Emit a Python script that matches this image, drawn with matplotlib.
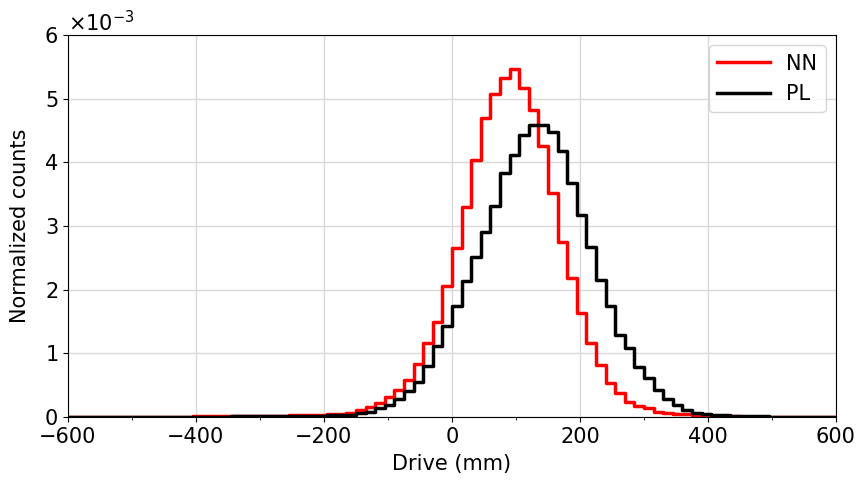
import matplotlib
matplotlib.use('Agg')
import matplotlib.pyplot as plt
from matplotlib.ticker import MultipleLocator
import numpy as np

# histogram bin edges (mm), 15 mm bins
bin_edges = np.arange(-600, 615, 15)

# normalized counts, in units of 1e-3, one value per bin starting at -600 mm
nn_counts = [
    0.002, 0.002, 0.002, 0.003, 0.003, 0.003, 0.004, 0.004, 0.005, 0.005,
    0.006, 0.007, 0.008, 0.009, 0.010, 0.011, 0.012, 0.013, 0.014, 0.015,
    0.017, 0.019, 0.021, 0.024, 0.027, 0.030, 0.035, 0.040, 0.050, 0.070,
    0.110, 0.150, 0.220, 0.320, 0.430, 0.580, 0.840, 1.170, 1.500, 2.060,
    2.660, 3.300, 4.040, 4.700, 5.080, 5.320, 5.470, 5.160, 4.820, 4.250,
    3.520, 2.750, 2.180, 1.630, 1.160, 0.820, 0.530, 0.370, 0.240, 0.180,
    0.140, 0.080, 0.060, 0.050, 0.040, 0.030, 0.022, 0.016, 0.012, 0.009,
    0.007, 0.006, 0.005, 0.004, 0.004, 0.003, 0.003, 0.003, 0.002, 0.002,
]
pl_counts = [
    0.001, 0.001, 0.001, 0.002, 0.002, 0.002, 0.002, 0.003, 0.003, 0.003,
    0.004, 0.004, 0.005, 0.005, 0.006, 0.007, 0.008, 0.009, 0.010, 0.011,
    0.012, 0.013, 0.015, 0.017, 0.019, 0.021, 0.022, 0.024, 0.026, 0.030,
    0.060, 0.080, 0.140, 0.190, 0.280, 0.410, 0.550, 0.800, 1.120, 1.430,
    1.750, 2.140, 2.510, 2.910, 3.320, 3.830, 4.120, 4.430, 4.590, 4.580,
    4.480, 4.180, 3.670, 3.170, 2.670, 2.150, 1.740, 1.290, 1.080, 0.790,
    0.610, 0.420, 0.290, 0.190, 0.110, 0.070, 0.050, 0.035, 0.025, 0.020,
    0.015, 0.012, 0.010, 0.008, 0.006, 0.005, 0.004, 0.003, 0.003, 0.002,
]

series = [('NN', nn_counts, 'red'), ('PL', pl_counts, 'black')]

plt.rcParams['font.size'] = 15

fig = plt.figure(figsize=(8.6, 4.83), dpi=100)
ax = fig.add_axes([0.079, 0.1366, 0.893, 0.791])

for label, counts, color in series:
    vals = np.array(counts) * 1e-3
    ax.step(bin_edges, np.append(vals, vals[-1]), where='post',
            color=color, linewidth=2.5, label=label)

ax.set_xlim(-600, 600)
ax.set_ylim(0, 6e-3)
ax.xaxis.set_major_locator(MultipleLocator(200))
ax.xaxis.set_minor_locator(MultipleLocator(100))
ax.yaxis.set_major_locator(MultipleLocator(1e-3))
ax.ticklabel_format(axis='y', style='sci', scilimits=(-3, -3), useMathText=True)
ax.grid(True, which='major', color='#d9d9d9', linewidth=1)
ax.set_axisbelow(True)

ax.set_xlabel('Drive (mm)', labelpad=5)
ax.set_ylabel('Normalized counts', labelpad=10)
ax.legend(loc='upper right', handlelength=2.5, borderaxespad=0.5)

fig.savefig('out.png', dpi=100)
